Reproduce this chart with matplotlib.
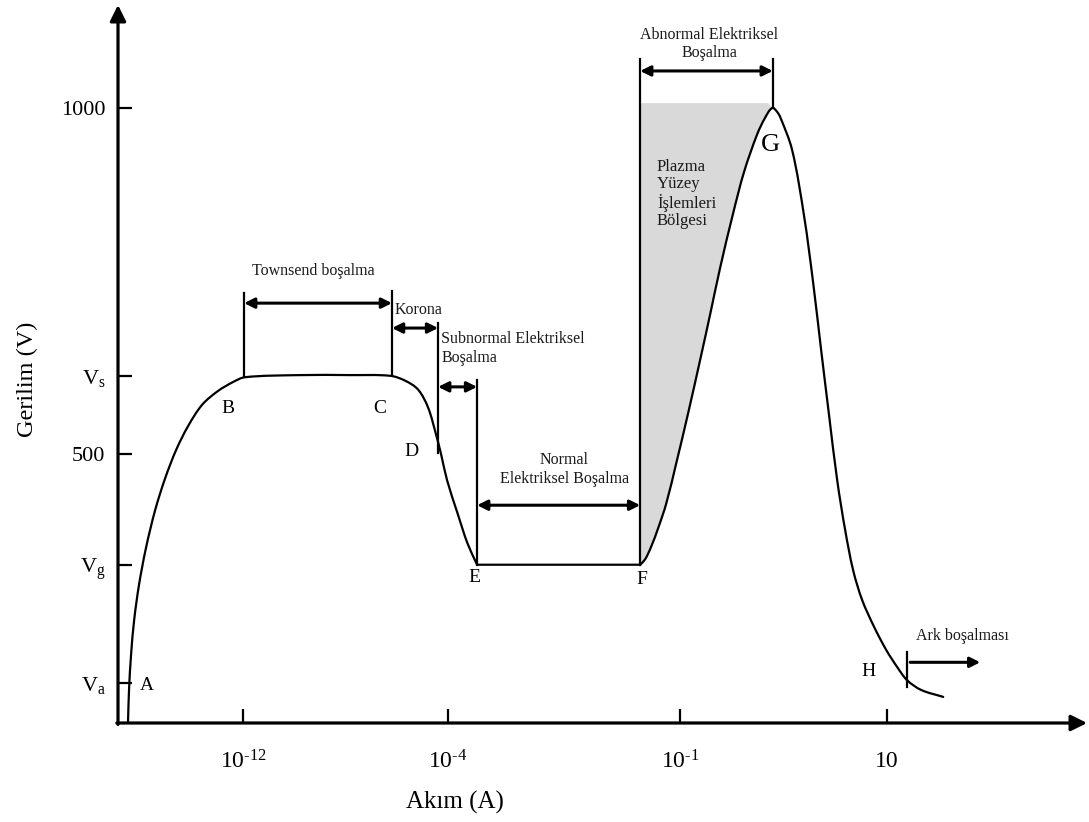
import numpy as np
import matplotlib
matplotlib.use("Agg")
import matplotlib.pyplot as plt
from matplotlib.path import Path
from matplotlib.patches import PathPatch
from matplotlib.transforms import IdentityTransform

plt.rcParams['font.family'] = ['Liberation Serif', 'DejaVu Serif']
plt.rcParams['mathtext.fontset'] = 'custom'
plt.rcParams['mathtext.rm'] = 'Liberation Serif'
plt.rcParams['mathtext.it'] = 'Liberation Serif:italic'

# ---- voltage axis (V) ----
V_a, V_g, V_s = 169, 340, 613
ytick_values = [V_a, V_g, 500, V_s, 1000]
ytick_labels = [r'$\mathregular{V_a}$', r'$\mathregular{V_g}$', '500',
                r'$\mathregular{V_s}$', '1000']

# ---- current axis, log10(I / A) ----
xtick_values = [-12, -4, -1, 1]
xtick_labels = ['$\\mathregular{10^{\u201012}}$', '$\\mathregular{10^{\u20104}}$',
                '$\\mathregular{10^{\u20101}}$', '10']

# A -> B -> C -> D -> E : dark discharge, Townsend, corona, subnormal glow
logI_AE = [-16.49, -16.45, -16.37, -16.25, -16.06, -15.79, -15.43, -15.04,
           -14.61, -14.15, -13.60, -12.98, -12.39, -11.92, -9.78, -7.82,
           -6.26, -5.68, -5.17, -4.78, -4.47, -4.27, -4.04, -3.88, -3.75,
           -3.625]
V_AE = [111, 159, 210, 260, 311, 364, 419, 465,
        506, 540, 571, 591, 604, 611, 614, 614,
        613, 606, 593, 567, 528, 499, 462, 415, 371,
        340]

# E -> F : normal glow at constant voltage
logI_EF = [-3.625, -1.517]
V_EF = [340, 340]

# F -> G -> H : abnormal glow, then transition to arc
logI_FH = [-1.517, -1.452, -1.375, -1.284, -1.181, -1.052, -0.923, -0.807,
           -0.710, -0.614, -0.488, -0.382, -0.256, -0.179, -0.111, -0.072,
           -0.034, 0.082, 0.198, 0.285, 0.362, 0.440, 0.517, 0.594, 0.671,
           0.758, 0.874, 0.990, 1.097, 1.193, 1.329, 1.541]
V_FH = [340, 348, 366, 393, 428, 486, 559, 636,
        702, 769, 848, 908, 962, 986, 1000, 996,
        987, 939, 843, 747, 650, 554, 462, 390, 332,
        289, 250, 217, 192, 173, 159, 149]
peak_index = 14            # point G in the F -> H run
plasma_top = 1007          # upper edge of the surface-treatment region
plasma_right = -0.15

# region boundaries: (log10 I, V bottom, V top)
boundaries = {
    'B': (-11.96, 611, 733),
    'C': (-6.19, 614, 736),
    'D': (-4.39, 501, 689),
    'E': (-3.625, 340, 607),
    'F': (-1.517, 340, 1071),
    'G': (-0.105, 1000, 1071),
}

# double arrows spanning the discharge regimes: (from, to, V)
spans = [
    ('B', 'C', 718),
    ('C', 'D', 682),
    ('D', 'E', 597),
    ('E', 'F', 426),
    ('F', 'G', 1053.5),
]

# arc regime marker
arc_tick = (1.193, 163, 214)
arc_arrow = (1.222, 1.899, 199)

# point letters
point_labels = {
    'A': (-15.75, 165), 'B': (-12.59, 566), 'C': (-6.65, 566),
    'D': (-5.44, 503), 'E': (-3.66, 321), 'F': (-1.50, 318),
    'H': (0.816, 185),
}
G_label = (-0.13, 946)

# schematic (compressed) current axis: decade -> horizontal position
decade_knots = [-20, -12, -4, -1, 1, 5]
knot_positions = [38, 243, 448, 680, 887, 1301]


def fwd(x):
    return np.interp(x, decade_knots, knot_positions)


def inv(p):
    return np.interp(p, knot_positions, decade_knots)


fig = plt.figure(figsize=(10.89, 8.22), dpi=100)
ax = fig.add_axes([118 / 1089, 99 / 822, 969 / 1089, 718 / 822])
ax.set_xscale('function', functions=(fwd, inv))
ax.set_xlim(-16.88, 2.93)
ax.set_ylim(111.3, 1148.8)

for s in ax.spines.values():
    s.set_visible(False)


def smooth_vertices(xs, ys):
    """Bezier vertices (display space) passing through every data point."""
    p = ax.transData.transform(np.column_stack([xs, ys]))
    n = len(p)
    tang = np.empty_like(p)
    tang[0] = p[1] - p[0]
    tang[-1] = p[-1] - p[-2]
    tang[1:-1] = p[2:] - p[:-2]
    tang /= np.linalg.norm(tang, axis=1)[:, None]
    verts = [p[0]]
    codes = [Path.MOVETO]
    for i in range(n - 1):
        d = np.linalg.norm(p[i + 1] - p[i]) / 3.0
        verts += [p[i] + tang[i] * d, p[i + 1] - tang[i + 1] * d, p[i + 1]]
        codes += [Path.CURVE4] * 3
    return verts, codes


# axes drawn as arrows
axis_arrow = dict(arrowstyle='-|>', lw=2.3, color='black',
                  mutation_scale=24, shrinkA=0, shrinkB=0)
ax.annotate('', xy=(0, 1), xytext=(0, -0.002), xycoords='axes fraction',
            arrowprops=axis_arrow, annotation_clip=False)
ax.annotate('', xy=(1, 0), xytext=(-0.0012, 0), xycoords='axes fraction',
            arrowprops=axis_arrow, annotation_clip=False)

ax.set_yticks(ytick_values)
ax.set_yticklabels(ytick_labels, fontsize=16)
ax.set_xticks(xtick_values)
ax.set_xticklabels(xtick_labels, fontsize=17)
ax.tick_params(axis='both', direction='in', length=10, width=1.6,
               color='black')
ax.tick_params(axis='y', pad=9)
ax.tick_params(axis='x', pad=20)

ax.set_ylabel('Gerilim (V)', fontsize=17.5)
ax.yaxis.set_label_coords(-0.093, 0.478)
ax.set_xlabel('Akım (A)', fontsize=18)
ax.xaxis.set_label_coords(0.348, -0.11)
ax.xaxis.label.set_va('center')
ax.yaxis.label.set_va('center')

# shaded plasma surface-treatment region
gv, gc = smooth_vertices(logI_FH[:peak_index + 1], V_FH[:peak_index + 1])
corner = ax.transData.transform([[plasma_right, plasma_top],
                                 [logI_FH[0], plasma_top]])
gv += [corner[0], corner[1], gv[0]]
gc += [Path.LINETO, Path.LINETO, Path.CLOSEPOLY]
ax.add_patch(PathPatch(Path(gv, gc), facecolor='#d9d9d9', edgecolor='none',
                       transform=IdentityTransform(), zorder=1))

# characteristic curve
for xs, ys in [(logI_AE, V_AE), (logI_EF, V_EF), (logI_FH, V_FH)]:
    v, c = smooth_vertices(xs, ys)
    ax.add_patch(PathPatch(Path(v, c), facecolor='none', edgecolor='black',
                           lw=1.6, capstyle='round', joinstyle='round',
                           transform=IdentityTransform(), zorder=3))

# region boundary lines
for x, y0, y1 in boundaries.values():
    ax.plot([x, x], [y0, y1], color='black', lw=1.6, zorder=3)

span_arrow = dict(arrowstyle='<|-|>', lw=2.2, color='black',
                  mutation_scale=15, shrinkA=0, shrinkB=0)
for a, b, y in spans:
    ax.annotate('', xy=(boundaries[b][0], y), xytext=(boundaries[a][0], y),
                arrowprops=span_arrow)

ax.plot([arc_tick[0]] * 2, arc_tick[1:], color='black', lw=1.6, zorder=3)
ax.annotate('', xy=(arc_arrow[1], arc_arrow[2]),
            xytext=(arc_arrow[0], arc_arrow[2]),
            arrowprops=dict(arrowstyle='-|>', lw=2.2, color='black',
                            mutation_scale=15, shrinkA=0, shrinkB=0))

# regime names
tkw = dict(fontsize=11.5, color='#1a1a1a')
ax.text(-9.27, 764, 'Townsend boşalma', ha='center', va='center', **tkw)
ax.text(-6.07, 708, 'Korona', ha='left', va='center', **tkw)
ax.text(-4.27, 652, 'Subnormal Elektriksel\nBoşalma', ha='left',
        va='center', linespacing=1.25, **tkw)
ax.text(-2.5, 477, 'Normal\nElektriksel Boşalma', ha='center', va='center',
        linespacing=1.25, **tkw)
ax.text(-0.72, 1092, 'Abnormal Elektriksel\nBoşalma', ha='center',
        va='center', linespacing=1.15, **tkw)
ax.text(-1.30, 876, 'Plazma\nYüzey\nİşlemleri\nBölgesi', ha='left',
        va='center', fontsize=12, linespacing=1.12, color='#1a1a1a',
        zorder=4)
ax.text(1.725, 237, 'Ark boşalması', ha='center', va='center', **tkw)

# point letters
for name, (x, y) in point_labels.items():
    ax.text(x, y, name, ha='center', va='center', fontsize=14)
ax.text(G_label[0], G_label[1], 'G', ha='center', va='center', fontsize=19)

fig.savefig('out.png', dpi=100)
